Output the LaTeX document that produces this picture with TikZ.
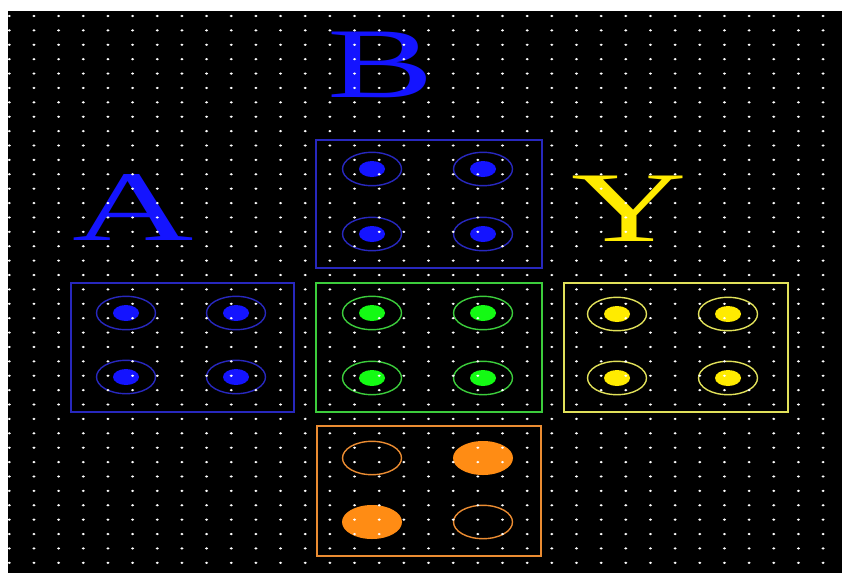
\documentclass[tikz,border=0pt]{standalone}
\usepackage{fontspec}
\setmainfont{Liberation Serif}
\usepackage{tikz}
\usetikzlibrary{positioning}

\definecolor{pinblue}{RGB}{20,20,255}
\definecolor{ringblue}{RGB}{40,40,190}
\definecolor{pingreen}{RGB}{20,250,20}
\definecolor{ringgreen}{RGB}{60,205,60}
\definecolor{pinyellow}{RGB}{255,235,0}
\definecolor{ringyellow}{RGB}{225,225,90}
\definecolor{pinorange}{RGB}{255,140,20}
\definecolor{ringorange}{RGB}{235,140,50}

\begin{document}
\begin{tikzpicture}[x=1pt, y=-1pt]
  \tikzstyle{frame}=[line width=1.7pt]
  \tikzstyle{ring}=[line width=1.4pt]
  \tikzstyle{letter}=[inner sep=0pt, anchor=base, xscale=1.6, font=\fontsize{100}{100}\selectfont]

  \fill[white] (0,0) rectangle (842,573);
  \fill[black] (8,11) rectangle (842,573);
  \useasboundingbox (0,0) rectangle (842,573);

  % letters
  \node[letter, text=pinblue] (labB) at (381,97) {B};
  \node[letter, text=pinblue, xscale=1.05] (labA) at (133,240) {A};
  \node[letter, text=pinyellow] (labY) at (629,241) {Y};

  % frames
  \draw[frame, ringblue] (316,140) rectangle (542,268);
  \draw[frame, ringblue] (71,283) rectangle (294,412);
  \draw[frame, ringgreen] (316,283) rectangle (542,412);
  \draw[frame, ringyellow] (564,283) rectangle (788,412);
  \draw[frame, ringorange] (317,426) rectangle (541,556);

  % pins
  \foreach \x/\y/\r/\p in {372/169/ringblue/pinblue, 483/169/ringblue/pinblue,
      372/234/ringblue/pinblue, 483/234/ringblue/pinblue,
      126/313/ringblue/pinblue, 236/313/ringblue/pinblue,
      126/377/ringblue/pinblue, 236/377/ringblue/pinblue,
      372/313/ringgreen/pingreen, 483/313/ringgreen/pingreen,
      372/378/ringgreen/pingreen, 483/378/ringgreen/pingreen,
      617/314/ringyellow/pinyellow, 728/314/ringyellow/pinyellow,
      617/378/ringyellow/pinyellow, 728/378/ringyellow/pinyellow} {
    \draw[ring, \r] (\x,\y) ellipse (29.5 and 16.7);
    \fill[\p] (\x,\y) ellipse (13 and 8);
  }

  % orange pins
  \draw[ring, ringorange] (372,458) ellipse (29.5 and 16.7);
  \fill[pinorange] (483,458) ellipse (30 and 17);
  \fill[pinorange] (372,522) ellipse (30 and 17);
  \draw[ring, ringorange] (483,522) ellipse (29.5 and 16.7);

  % grid
  \foreach \i in {0,...,33}
    \foreach \j in {0,...,38}
      \fill[white] ({9.3+24.66*\i},{16+14.39*\j}) ellipse (1.6 and 1.2);
\end{tikzpicture}
\end{document}
